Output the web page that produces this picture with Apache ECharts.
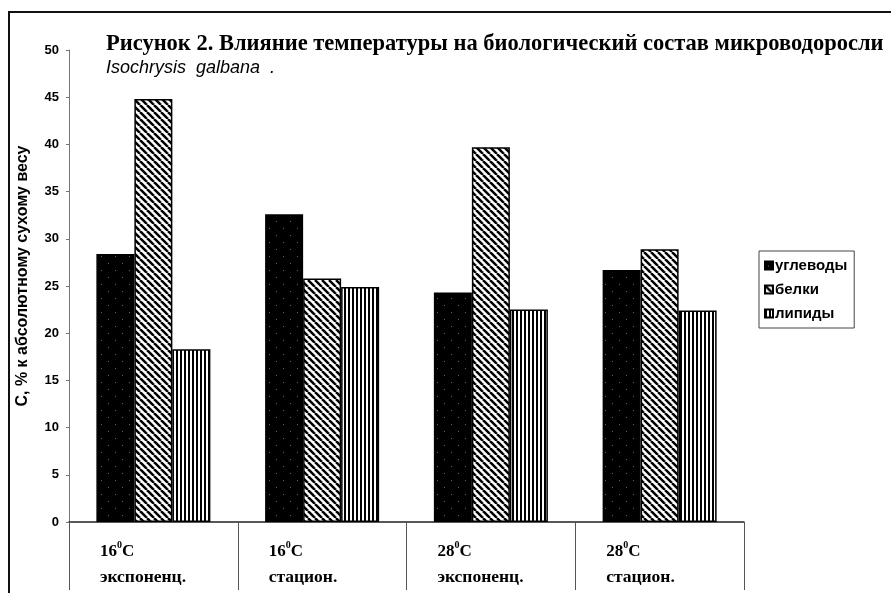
<!DOCTYPE html>
<html>
<head>
<meta charset="utf-8">
<script src="https://cdn.jsdelivr.net/npm/echarts@6/dist/echarts.min.js"></script>
<style>
  html, body { margin: 0; padding: 0; background: #fff; }
  #main { width: 894px; height: 593px; }
  .frame { position: absolute; left: 8px; top: 11px; width: 881px; height: 600px;
    border-left: 2px solid #111; border-top: 2px solid #111; pointer-events: none; }
</style>
</head>
<body>
<div id="main"></div>
<div class="frame"></div>
<script>
const tempLabels = ['16', '16', '28', '28'];
const phaseLabels = ['экспоненц.', 'стацион.', 'экспоненц.', 'стацион.'];
const categories = tempLabels.map((t, i) => t + '|' + phaseLabels[i]);

const carbs = [28.4, 32.6, 24.3, 26.7];
const proteins = [44.8, 25.8, 39.7, 28.9];
const lipids = [18.3, 24.9, 22.5, 22.4];

const yTicks = [0, 5, 10, 15, 20, 25, 30, 35, 40, 45, 50];

// fill patterns like the scanned print
function pattern(w, h, draw) {
  const c = document.createElement('canvas');
  c.width = w; c.height = h;
  const ctx = c.getContext('2d');
  draw(ctx, w, h);
  return { image: c, repeat: 'repeat' };
}

const darkFill = pattern(14, 14, (ctx, w, h) => {
  ctx.fillStyle = '#000';
  ctx.fillRect(0, 0, w, h);
  ctx.fillStyle = '#666';
  ctx.fillRect(3, 4, 1, 1);
  ctx.fillRect(10, 11, 1, 1);
});

const diagFill = pattern(7, 7, (ctx, w, h) => {
  ctx.fillStyle = '#fff';
  ctx.fillRect(0, 0, w, h);
  ctx.strokeStyle = '#000';
  ctx.lineWidth = 2.5;
  for (let k = -1; k <= 1; k++) {
    ctx.beginPath();
    ctx.moveTo(k * w, 0);
    ctx.lineTo(k * w + w, h);
    ctx.stroke();
  }
});

const vertFill = pattern(4, 4, (ctx, w, h) => {
  ctx.fillStyle = '#fff';
  ctx.fillRect(0, 0, w, h);
  ctx.fillStyle = '#000';
  ctx.fillRect(0, 0, 2, h);
});

const chart = echarts.init(document.getElementById('main'));

chart.setOption({
  animation: false,
  title: {
    text: 'Рисунок 2. Влияние температуры на биологический состав микроводоросли',
    subtext: 'Isochrysis  galbana  .',
    left: 106,
    top: 33,
    padding: 0,
    itemGap: 3,
    textStyle: { fontFamily: 'Liberation Serif', fontWeight: 'bold', fontSize: 22.5, color: '#000' },
    subtextStyle: { fontFamily: 'Liberation Sans', fontStyle: 'italic', fontSize: 18, color: '#000' }
  },
  legend: {
    orient: 'vertical',
    left: 759,
    top: 251,
    padding: [7, 7, 7, 5],
    itemGap: 9,
    itemWidth: 8,
    itemHeight: 8,
    icon: 'rect',
    borderColor: '#444',
    borderWidth: 1,
    textStyle: { fontFamily: 'Liberation Sans', fontWeight: 'bold', fontSize: 15, color: '#000', padding: [0, 0, 0, -3] },
    data: ['углеводы', 'белки', 'липиды']
  },
  grid: { left: 69, right: 150, top: 50, bottom: 71, containLabel: false },
  xAxis: {
    type: 'category',
    data: categories,
    axisLine: { lineStyle: { color: '#222', width: 1.5 } },
    axisTick: { show: true, length: 68, interval: 0, lineStyle: { color: '#555', width: 1 } },
    axisLabel: {
      interval: 0,
      margin: 18,
      formatter: v => {
        const [t, p] = v.split('|');
        return '{t|' + t + '}{s|0}{t|C}\n{p|' + p + '}';
      },
      rich: {
        t: { fontFamily: 'Liberation Serif', fontWeight: 'bold', fontSize: 17, lineHeight: 24, align: 'left', color: '#000' },
        s: { fontFamily: 'Liberation Serif', fontWeight: 'bold', fontSize: 10, lineHeight: 10, align: 'left', verticalAlign: 'top', color: '#000' },
        p: { fontFamily: 'Liberation Serif', fontWeight: 'bold', fontSize: 17.5, lineHeight: 26, width: 107, align: 'left', color: '#000' }
      }
    }
  },
  yAxis: {
    type: 'value',
    min: 0,
    max: 50,
    interval: 5,
    name: 'С, % к абсолютному сухому весу',
    nameLocation: 'middle',
    nameGap: 38,
    nameTextStyle: { fontFamily: 'Liberation Sans', fontWeight: 'bold', fontSize: 16, color: '#000', padding: [0, 0, 0, 20] },
    axisLine: { show: true, lineStyle: { color: '#777', width: 1 } },
    axisTick: { show: true, length: 3, lineStyle: { color: '#777' } },
    splitLine: { show: false },
    axisLabel: {
      margin: 10,
      fontFamily: 'Liberation Sans',
      fontWeight: 'bold',
      fontSize: 13,
      color: '#000',
      customValues: yTicks
    }
  },
  series: [
    { name: 'углеводы', data: carbs, itemStyle: { color: darkFill } },
    { name: 'белки', data: proteins, itemStyle: { color: diagFill } },
    { name: 'липиды', data: lipids, itemStyle: { color: vertFill } }
  ].map(s => ({
    ...s,
    type: 'bar',
    barWidth: 38,
    barGap: '0%',
    itemStyle: { ...s.itemStyle, borderColor: '#000', borderWidth: 1.5 }
  }))
});
</script>
</body>
</html>
